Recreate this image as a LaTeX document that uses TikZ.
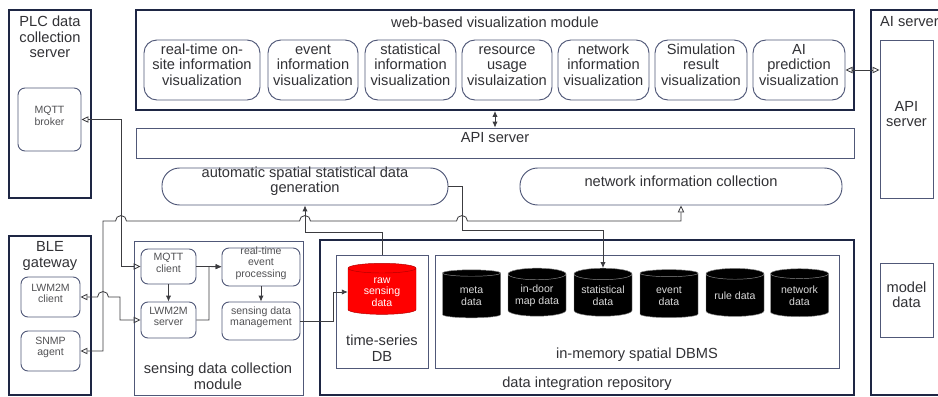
\documentclass[tikz,border=0pt]{standalone}
\usepackage{fontspec}
\setmainfont{Liberation Sans}
\usetikzlibrary{arrows.meta,fit,shapes.geometric}

\definecolor{frame}{RGB}{30,38,68}
\definecolor{edge}{RGB}{80,88,120}
\definecolor{wire}{RGB}{60,60,64}
\definecolor{ink}{RGB}{50,50,54}

\begin{document}
\begin{tikzpicture}[x=0.03cm,y=-0.03cm,font=\fontsize{12.5}{13.4}\selectfont,text=ink,
 >={Latex[length=5pt,width=4.5pt]},
 group/.style={draw=frame,line width=1.8pt,inner sep=0pt},
 panel/.style={draw=edge,line width=0.8pt,inner sep=0pt,align=center},
 viz/.style={panel,rounded corners=11pt},
 unit/.style={panel,rounded corners=6pt,font=\fontsize{9}{9.8}\selectfont,text=ink!85},
 pill/.style={panel,rounded corners=15pt},
 store/.style={cylinder,shape border rotate=90,aspect=0.25,draw=white!55!black,fill=black,
   text=white!85!black,minimum width=1.74cm,minimum height=1.44cm,inner sep=1pt,align=center,
   font=\fontsize{9}{10}\selectfont},
 flow/.style={->,wire,line width=0.7pt},
 link/.style={{Triangle[open,length=6pt,width=5.5pt]}-{Triangle[open,length=6pt,width=5.5pt]},wire,line width=0.7pt}]
\useasboundingbox[fill=white] (0,0) rectangle (938,397);

% PLC side
\node[group,fit={(9,10)(91,198)}] (plc) {};
\node[align=center] (plctitle) at (50,37) {PLC data\\collection\\server};
\node[unit,fit={(18,88)(81,151)}] (broker) {MQTT\\broker};

% BLE side
\node[group,fit={(9,236)(91,395)}] (ble) {};
\node[align=center] (bletitle) at (50,256) {BLE\\gateway};
\node[unit,fit={(21,277)(80,317)}] (lwclient) {LWM2M\\client};
\node[unit,fit={(21,331)(80,371)}] (snmp) {SNMP\\agent};

% visualization module
\node[group,fit={(136,10)(854,110)}] (web) {};
\node (webtitle) at (495,22) {web-based visualization module};
\node[viz,fit={(144,40)(260,100)}] (rtviz) {real-time on-\\site information\\visualization};
\node[viz,fit={(268,40)(358,100)}] (evviz) {event\\information\\visualization};
\node[viz,fit={(365,40)(456,100)}] (stviz) {statistical\\information\\visualization};
\node[viz,fit={(462,40)(552,100)}] (rsviz) {resource\\usage\\visulaization};
\node[viz,fit={(558,40)(649,100)}] (nwviz) {network\\information\\visualization};
\node[viz,fit={(655,40)(747,100)}] (simviz) {Simulation\\result\\visualization};
\node[viz,fit={(753,40)(845,100)}] (aiviz) {AI\\prediction\\visualization};

\node[panel,fit={(136,128)(854,158)}] (api) {API server};
\node[pill,fit={(162,168)(448,205)}] (autogen) {automatic spatial statistical data\\generation};
\node[pill,fit={(520,168)(842,205)}] (netinfo) {network information collection};

% AI server
\node[group,fit={(871,10)(950,395)}] (ai) {};
\node[anchor=west] (aititle) at (876,22) {AI server};
\node[panel,fit={(880,40)(933,198)}] (aiapi) {API\\server};
\node[panel,fit={(880,263)(933,337)}] (model) {model\\data};

% sensing data collection
\node[panel,fit={(134,241)(303,395)}] (sensing) {};
\node[align=center] (sensingtitle) at (218,376) {sensing data collection\\module};
\node[unit,fit={(141,249)(196,284)}] (mqttc) {MQTT\\client};
\node[unit,fit={(141,302)(196,338)}] (lwserver) {LWM2M\\server};
\node[unit,fit={(222,248)(300,286)}] (rtevent) {real-time\\event\\processing};
\node[unit,fit={(222,302)(300,340)}] (sdm) {sensing data\\management};

% repository
\node[group,fit={(320,240)(854,395)}] (repo) {};
\node (repotitle) at (587,384) {data integration repository};
\node[panel,fit={(336,255)(428,368)}] (tsdb) {};
\node[align=center] (tsdbtitle) at (382,348) {time-series\\DB};
\node[store,fill=red,draw=red!70!black,text=white,minimum width=2.04cm,minimum height=1.53cm] (raw) at (382,292) {raw\\sensing\\data};
\node[panel,fit={(435,255)(839,368)}] (imdb) {};
\node (imdbtitle) at (637,355) {in-memory spatial DBMS};
\node[store] (meta) at (471.5,296) {meta\\data};
\node[store] (indoor) at (537,296) {in-door\\map data};
\node[store] (stat) at (603,296) {statistical\\data};
\node[store] (event) at (669,296) {event\\data};
\node[store] (rule) at (735,296) {rule data};
\node[store] (network) at (799.5,296) {network\\data};

% connectors
\draw[flow,<->] (web.south) -- (api.north);
\draw[link] (aiviz.east) -- (aiviz.east -| aiapi.west);
\draw[link] (broker.east) -- ++(40,0) |- (mqttc.west);
\draw[flow] (mqttc) -- (lwserver);
\draw[flow] (mqttc.east) -- (mqttc.east -| rtevent.west);
\draw[flow] (lwserver.east) -| (209,266.5) -- (rtevent.west);
\draw[flow] (rtevent) -- (sdm);
\draw[flow] (sdm.east) -- (333,321) |- (raw.west);
\draw[link] (lwclient.east) -- (97.5,297) arc[start angle=180,end angle=360,radius=5.5] -- (120,297) |- (lwserver.west);
\draw[link] (snmp.east) -- (103,351) -- (103,221) -- (115.5,221) arc[start angle=180,end angle=360,radius=5.5]
  -- (299.5,221) arc[start angle=180,end angle=360,radius=5.5]
  -- (456.5,221) arc[start angle=180,end angle=360,radius=5.5] -| (netinfo.south);
\draw[flow] (tsdb.north) -- (382,232) -| (autogen.south);
\draw[flow] (autogen.east) -- (462,186.5) -- (462,230) -| (stat.north);
\end{tikzpicture}
\end{document}
